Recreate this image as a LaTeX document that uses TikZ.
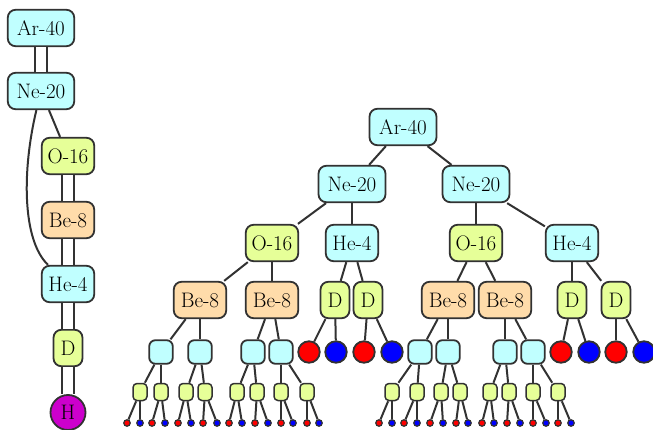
\documentclass[tikz,border=0pt]{standalone}
\usepackage{tikz}

\definecolor{ciano}{RGB}{192,255,255}
\definecolor{giallo}{RGB}{230,255,152}
\definecolor{pesca}{RGB}{255,220,170}
\definecolor{viola}{RGB}{204,0,204}
\definecolor{rosso}{RGB}{255,0,0}
\definecolor{blu}{RGB}{0,0,255}
\definecolor{bordo}{RGB}{50,50,50}

\begin{document}
\begin{tikzpicture}[x=1pt,y=-1pt,
    font=\fontsize{21}{25}\selectfont,
    nucleo/.style={draw=bordo,line width=1.8pt,rounded corners=8pt,
                   inner sep=0pt,minimum height=36.5pt,minimum width=#1},
    nucleo/.default=52.5pt,
    scatola/.style={draw=bordo,line width=1.8pt,rounded corners=6pt,fill=ciano,
                    inner sep=0pt,minimum width=23.5pt,minimum height=23.5pt},
    scatolina/.style={draw=bordo,line width=1.5pt,rounded corners=4pt,fill=giallo,
                      inner sep=0pt,minimum width=14pt,minimum height=17pt},
    palla/.style={circle,draw=bordo,line width=1.8pt,inner sep=0pt,minimum size=21.5pt},
    pallina/.style={circle,draw=bordo,line width=1.2pt,inner sep=0pt,minimum size=6.5pt},
    arco/.style={draw=bordo,line width=2pt},
    doppio/.style={draw=bordo,line width=2pt,double=white,double distance=10pt}]

  \useasboundingbox (0,0) rectangle (653,430);

  % --- catena a sinistra ---
  \node[nucleo=66.5pt,fill=ciano] (sAr) at (41,28) {Ar-40};
  \node[nucleo=66.5pt,fill=ciano] (sNe) at (41,91) {Ne-20};
  \node[nucleo,fill=giallo] (sO) at (68,156) {O-16};
  \node[nucleo,fill=pesca] (sBe) at (68,220) {Be-8};
  \node[nucleo,fill=ciano] (sHe) at (68,284) {He-4};
  \node[nucleo=29pt,fill=giallo] (sD) at (68,348) {D};
  \node[circle,draw=bordo,line width=1.8pt,fill=viola,inner sep=0pt,
        minimum size=35pt] (sH) at (68,412.5) {H};

  \draw[doppio] (sAr) -- (sNe);
  \draw[doppio] (sO) -- (sBe);
  \draw[doppio] (sBe) -- (sHe);
  \draw[doppio] (sHe) -- (sD);
  \draw[doppio] (sD) -- (sH);
  \draw[arco] (sNe) -- (sO);
  \draw[arco] (sNe) .. controls (22,170) and (22,240) .. (sHe);

  % --- albero a destra, livelli alti ---
  \node[nucleo=67pt,fill=ciano] (ar) at (403,127) {Ar-40};
  \node[nucleo=67pt,fill=ciano] (ne1) at (352,184) {Ne-20};
  \node[nucleo=67pt,fill=ciano] (ne2) at (476,184) {Ne-20};
  \node[nucleo,fill=giallo] (o1) at (272,243) {O-16};
  \node[nucleo,fill=ciano] (he1) at (352,243) {He-4};
  \node[nucleo,fill=giallo] (o2) at (476,243) {O-16};
  \node[nucleo,fill=ciano] (he2) at (572,243) {He-4};

  \node[nucleo,fill=pesca] (be1) at (200,300) {Be-8};
  \node[nucleo,fill=pesca] (be2) at (272,300) {Be-8};
  \node[nucleo,fill=pesca] (be3) at (448,300) {Be-8};
  \node[nucleo,fill=pesca] (be4) at (505,300) {Be-8};
  \node[nucleo=29pt,fill=giallo] (d1) at (335,300) {D};
  \node[nucleo=29pt,fill=giallo] (d2) at (368,300) {D};
  \node[nucleo=29pt,fill=giallo] (d3) at (572,300) {D};
  \node[nucleo=29pt,fill=giallo] (d4) at (616,300) {D};

  \foreach \a/\b in {ar/ne1,ar/ne2,ne1/o1,ne1/he1,ne2/o2,ne2/he2,
                     o1/be1,o1/be2,he1/d1,he1/d2,o2/be3,o2/be4,he2/d3,he2/d4}
    \draw[arco] (\a) -- (\b);

  % --- protoni e neutroni sotto i D ---
  \foreach \r/\b [count=\i] in {309/336,364/392,561/589,616/644}{
    \node[palla,fill=rosso] (gr\i) at (\r,352) {};
    \node[palla,fill=blu] (gb\i) at (\b,352) {};
    \draw[arco] (d\i) -- (gr\i);
    \draw[arco] (d\i) -- (gb\i);
  }

  % --- He-4 piccoli sotto i Be-8 ---
  \foreach \x [count=\i] in {161,200,253,281,420,448,505,533}
    \node[scatola] (c\i) at (\x,352) {};
  \foreach \k/\padre in {1/be1,2/be1,3/be2,4/be2,5/be3,6/be3,7/be4,8/be4}
    \draw[arco] (\padre) -- (c\k);

  % --- D piccoli ---
  \foreach \x [count=\i] in {140,161,186,205,237,257,281,307,
                             392,417,441,460,490,509,533,558}
    \node[scatolina] (m\i) at (\x,392) {};
  \foreach \i in {1,...,8}{
    \pgfmathtruncatemacro{\j}{2*\i-1}
    \pgfmathtruncatemacro{\k}{2*\i}
    \draw[arco] (c\i) -- (m\j);
    \draw[arco] (c\i) -- (m\k);
  }

  % --- puntini in fondo ---
  \foreach \r/\b [count=\i] in {127/140,152/165,178/191,203/217,229/242,
                                255/268,281/293,307/319,379/392,404/417,
                                430/443,456/468,482/494,507/520,533/546,558/571}{
    \node[pallina,fill=rosso] (pr\i) at (\r,423) {};
    \node[pallina,fill=blu] (pb\i) at (\b,423) {};
    \draw[arco] (m\i) -- (pr\i);
    \draw[arco] (m\i) -- (pb\i);
  }

\end{tikzpicture}
\end{document}
